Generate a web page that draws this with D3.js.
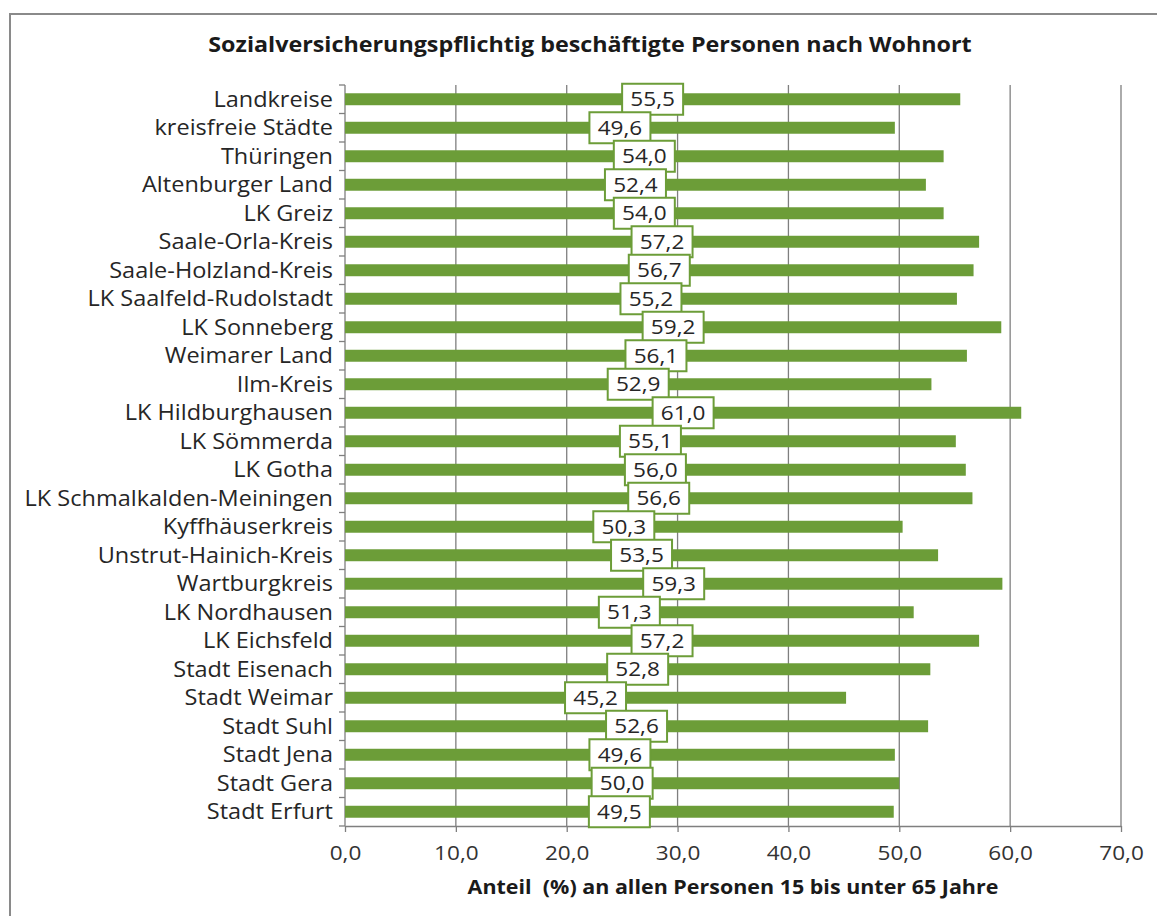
<!DOCTYPE html>
<html>
<head>
<meta charset="utf-8">
<script src="https://cdn.jsdelivr.net/npm/d3@7"></script>
<style>
  body { margin: 0; background: #fff; }
  svg { display: block; }
</style>
</head>
<body>
<div class="chart-container"></div>
<script>
// data
const categories = [
  "Landkreise", "kreisfreie Städte", "Thüringen", "Altenburger Land", "LK Greiz",
  "Saale-Orla-Kreis", "Saale-Holzland-Kreis", "LK Saalfeld-Rudolstadt", "LK Sonneberg",
  "Weimarer Land", "Ilm-Kreis", "LK Hildburghausen", "LK Sömmerda", "LK Gotha",
  "LK Schmalkalden-Meiningen", "Kyffhäuserkreis", "Unstrut-Hainich-Kreis", "Wartburgkreis",
  "LK Nordhausen", "LK Eichsfeld", "Stadt Eisenach", "Stadt Weimar", "Stadt Suhl",
  "Stadt Jena", "Stadt Gera", "Stadt Erfurt"
];
const values = [
  55.5, 49.6, 54.0, 52.4, 54.0, 57.2, 56.7, 55.2, 59.2, 56.1, 52.9, 61.0, 55.1,
  56.0, 56.6, 50.3, 53.5, 59.3, 51.3, 57.2, 52.8, 45.2, 52.6, 49.6, 50.0, 49.5
];
const xTicks = [0, 10, 20, 30, 40, 50, 60, 70];
const title = "Sozialversicherungspflichtig beschäftigte Personen nach Wohnort";
const xTitle = "Anteil  (%) an allen Personen 15 bis unter 65 Jahre";

const width = 1157, height = 916;
const margin = { top: 85, right: 36, bottom: 90, left: 345 };
const green = "#6c9d38";
const font = "'Open Sans', sans-serif";
const stretch = 1.13; // the original text is a bit wider than Open Sans
const fmt = v => d3.format(".1f")(v).replace(".", ",");

const svg = d3.select(".chart-container")
  .append("svg")
  .attr("width", width)
  .attr("height", height);

// outer frame
svg.append("rect")
  .attr("x", 10).attr("y", 14)
  .attr("width", width + 20).attr("height", height + 20)
  .attr("fill", "none")
  .attr("stroke", "#8a8a8a")
  .attr("stroke-width", 2);

svg.append("text")
  .attr("transform", "translate(590,52) scale(" + 1.11 + ",1)")
  .attr("text-anchor", "middle")
  .style("font-family", font)
  .style("font-size", "21px")
  .style("font-weight", "bold")
  .attr("fill", "#1a1a1a")
  .text(title);

const innerW = width - margin.left - margin.right;
const innerH = height - margin.top - margin.bottom;

const x = d3.scaleLinear().domain([0, 70]).range([0, innerW]);
const y = d3.scaleBand().domain(categories).range([0, innerH]).paddingInner(0.58).paddingOuter(0.29);

const g = svg.append("g")
  .attr("transform", "translate(" + margin.left + "," + margin.top + ")");

// vertical gridlines
g.selectAll(".grid")
  .data(xTicks.slice(1))
  .join("line")
  .attr("class", "grid")
  .attr("x1", d => x(d)).attr("x2", d => x(d))
  .attr("y1", 0).attr("y2", innerH)
  .attr("stroke", "#7f7f7f")
  .attr("stroke-width", 1.3);

// x axis
const xAxis = g.append("g")
  .attr("transform", "translate(0," + innerH + ")")
  .call(d3.axisBottom(x).tickValues(xTicks).tickFormat(fmt).tickSize(6).tickSizeOuter(0));
xAxis.select(".domain").attr("stroke", "#7f7f7f").attr("stroke-width", 1.3);
xAxis.selectAll(".tick line").attr("stroke", "#7f7f7f").attr("stroke-width", 1.3);
xAxis.selectAll(".tick text")
  .attr("y", 0)
  .attr("dy", 0)
  .attr("transform", "translate(0,34) scale(" + stretch + ",1)")
  .style("font-family", font)
  .style("font-size", "20px")
  .attr("fill", "#333");

// y axis line with ticks at band boundaries
g.append("line")
  .attr("x1", 0).attr("x2", 0).attr("y1", 0).attr("y2", innerH)
  .attr("stroke", "#7f7f7f").attr("stroke-width", 1.3);
const step = y.step();
g.selectAll(".ytick")
  .data(d3.range(categories.length + 1))
  .join("line")
  .attr("class", "ytick")
  .attr("x1", -6).attr("x2", 0)
  .attr("y1", i => i * step).attr("y2", i => i * step)
  .attr("stroke", "#7f7f7f").attr("stroke-width", 1.3);

g.selectAll(".ylabel")
  .data(categories)
  .join("text")
  .attr("class", "ylabel")
  .attr("transform", d => "translate(-12," + (y(d) + y.bandwidth() / 2) + ") scale(1.12,1)")
  .attr("dy", "0.36em")
  .attr("text-anchor", "end")
  .style("font-family", font)
  .style("font-size", "21px")
  .attr("fill", "#262626")
  .text(d => d);

// bars
g.selectAll(".bar")
  .data(values)
  .join("rect")
  .attr("class", "bar")
  .attr("x", 0)
  .attr("y", (d, i) => y(categories[i]))
  .attr("width", d => x(d))
  .attr("height", y.bandwidth())
  .attr("fill", green);

// value labels in boxes at bar middle
const boxW = 61, boxH = 31;
const lab = g.selectAll(".lab")
  .data(values)
  .join("g")
  .attr("class", "lab")
  .attr("transform", (d, i) => "translate(" + x(d / 2) + "," + (y(categories[i]) + y.bandwidth() / 2) + ")");
lab.append("rect")
  .attr("x", -boxW / 2).attr("y", -boxH / 2)
  .attr("width", boxW).attr("height", boxH)
  .attr("fill", "#fff")
  .attr("stroke", green)
  .attr("stroke-width", 2);
lab.append("text")
  .attr("text-anchor", "middle")
  .attr("dy", "0.36em")
  .attr("transform", "scale(" + stretch + ",1)")
  .style("font-family", font)
  .style("font-size", "20px")
  .attr("fill", "#262626")
  .text(d => fmt(d));

svg.append("text")
  .attr("transform", "translate(" + (margin.left + innerW / 2) + ",894) scale(" + stretch + ",1)")
  .attr("text-anchor", "middle")
  .style("font-family", font)
  .style("font-size", "19px")
  .style("font-weight", "bold")
  .attr("fill", "#1a1a1a")
  .style("white-space", "pre")
  .text(xTitle);
</script>
</body>
</html>
